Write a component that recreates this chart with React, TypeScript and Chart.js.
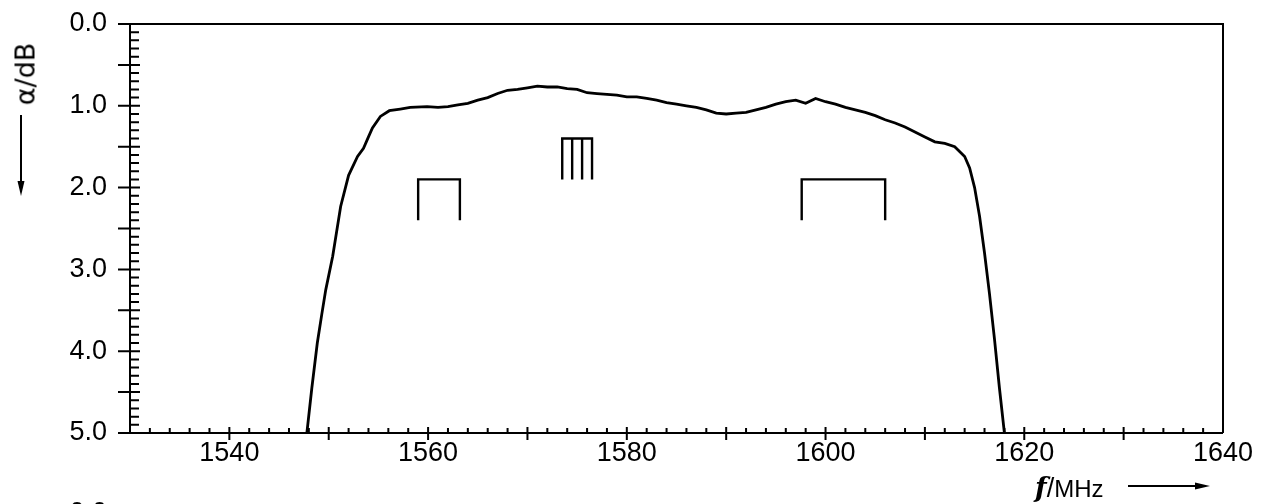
import React, { useEffect, useRef } from "react";
import { Chart, registerables } from "chart.js";

Chart.register(...registerables);

// Measured attenuation curve (frequency in MHz, attenuation in dB)
const freqMHz = [
  1547.8, 1548.3, 1548.85, 1549.3, 1549.7, 1550.4, 1551.2, 1552.0, 1552.9, 1553.5,
  1554.0, 1554.4, 1555.2, 1556.1, 1557.2, 1558.2, 1559.9, 1561, 1562, 1563,
  1564, 1565, 1566, 1567, 1568, 1569, 1570, 1571, 1572, 1573,
  1574, 1575, 1576, 1577, 1578, 1579, 1580, 1581, 1582, 1583,
  1584, 1585, 1586, 1587, 1588, 1589, 1590, 1591, 1592, 1593,
  1594, 1595, 1596, 1597, 1598, 1599, 1600, 1601, 1602, 1603,
  1604, 1605, 1606, 1607, 1608, 1609, 1610, 1611, 1612, 1613,
  1614, 1614.5, 1615, 1615.5, 1616, 1616.5, 1617, 1617.5, 1618,
];
const attenuationDb = [
  5.0, 4.45, 3.9, 3.55, 3.25, 2.84, 2.23, 1.85, 1.62, 1.52,
  1.38, 1.27, 1.13, 1.06, 1.04, 1.02, 1.01, 1.02, 1.01, 0.99,
  0.97, 0.93, 0.9, 0.85, 0.81, 0.8, 0.78, 0.76, 0.77, 0.77,
  0.79, 0.8, 0.84, 0.85, 0.86, 0.87, 0.89, 0.89, 0.91, 0.93,
  0.96, 0.98, 1.0, 1.02, 1.05, 1.09, 1.1, 1.09, 1.08, 1.05,
  1.02, 0.98, 0.95, 0.93, 0.97, 0.91, 0.95, 0.98, 1.02, 1.05,
  1.08, 1.12, 1.17, 1.21, 1.26, 1.32, 1.38, 1.44, 1.46, 1.5,
  1.62, 1.76, 2.0, 2.35, 2.8, 3.3, 3.85, 4.45, 5.0,
];

// Axis ranges and tick labels
const xMin = 1530;
const xMax = 1640;
const yMin = 0;
const yMax = 5;
const xTickValues = [1540, 1560, 1580, 1600, 1620, 1640];
const yTickValues = [0, 1, 2, 3, 4, 5];

// Band markers (edges in MHz) and their levels in dB
const bandB1 = [1559.0, 1563.2];
const bandL1 = [1573.5, 1574.5, 1575.5, 1576.5];
const bandG1 = [1597.6, 1606.0];
const bracketTop = 1.9;
const bracketBottom = 2.4;
const combTop = 1.4;
const combBottom = 1.9;

type Pt = { x: number; y: number | null };

function bracketPoints(edges: number[], top: number, bottom: number): Pt[] {
  const first = edges[0];
  const last = edges[edges.length - 1];
  const pts: Pt[] = [
    { x: first, y: bottom },
    { x: first, y: top },
    { x: last, y: top },
    { x: last, y: bottom },
  ];
  edges.slice(1, -1).forEach((e) => {
    pts.push({ x: e, y: null });
    pts.push({ x: e, y: top });
    pts.push({ x: e, y: bottom });
  });
  return pts;
}

const frameTicksPlugin = {
  id: "frameTicks",
  afterDatasetsDraw(chart: any) {
    const { ctx, scales } = chart;
    const x = scales.x;
    const y = scales.y;
    const yTop = y.getPixelForValue(yMin);
    const yBot = y.getPixelForValue(yMax);
    const xl = x.getPixelForValue(xMin);
    const xr = x.getPixelForValue(xMax);
    ctx.save();
    ctx.strokeStyle = "#000";
    ctx.lineWidth = 2;
    ctx.beginPath();
    // frame
    ctx.moveTo(xl - 12, yTop);
    ctx.lineTo(xr, yTop);
    ctx.lineTo(xr, yBot);
    ctx.moveTo(xl - 12, yBot);
    ctx.lineTo(xr, yBot);
    ctx.moveTo(xl, yTop);
    ctx.lineTo(xl, yBot);
    // y ticks every 0.1, major every 0.5
    for (let i = 1; i < 50; i++) {
      const p = y.getPixelForValue(i / 10);
      if (i % 5 === 0) {
        ctx.moveTo(xl - 12, p);
        ctx.lineTo(xl + 10, p);
      } else {
        ctx.moveTo(xl, p);
        ctx.lineTo(xl + 9, p);
      }
    }
    // x ticks every 2 MHz, major every 10 MHz
    for (let f = xMin + 2; f < xMax; f += 2) {
      const p = x.getPixelForValue(f);
      if (f % 10 === 0) {
        ctx.moveTo(p, yBot - 6);
        ctx.lineTo(p, yBot + 7);
      } else {
        ctx.moveTo(p, yBot - 5);
        ctx.lineTo(p, yBot);
      }
    }
    ctx.stroke();

    // axis arrows
    ctx.lineWidth = 2;
    ctx.beginPath();
    ctx.moveTo(21, 115);
    ctx.lineTo(21, 186);
    ctx.moveTo(1128, 486);
    ctx.lineTo(1198, 486);
    ctx.stroke();
    ctx.fillStyle = "#000";
    ctx.beginPath();
    ctx.moveTo(17.5, 181);
    ctx.lineTo(24.5, 181);
    ctx.lineTo(21, 196);
    ctx.closePath();
    ctx.fill();
    ctx.beginPath();
    ctx.moveTo(1195, 482.5);
    ctx.lineTo(1195, 489.5);
    ctx.lineTo(1210, 486);
    ctx.closePath();
    ctx.fill();
    ctx.restore();
  },
};

export default function App() {
  const canvasRef = useRef<HTMLCanvasElement | null>(null);

  useEffect(() => {
    if (!canvasRef.current) return;
    const curve = freqMHz.map((f, i) => ({ x: f, y: attenuationDb[i] }));
    const tickFont = { family: "'Liberation Sans', Arial, sans-serif", size: 27 };
    const lineDs = (data: Pt[], width: number) => ({
      data,
      showLine: true,
      borderColor: "#000",
      backgroundColor: "#000",
      borderWidth: width,
      pointRadius: 0,
      pointHoverRadius: 0,
      tension: 0,
      spanGaps: false,
      fill: false,
    });
    const chart = new Chart(canvasRef.current, {
      type: "scatter",
      data: {
        datasets: [
          lineDs(curve, 2.8),
          lineDs(bracketPoints(bandB1, bracketTop, bracketBottom), 2.4),
          lineDs(bracketPoints(bandL1, combTop, combBottom), 2.4),
          lineDs(bracketPoints(bandG1, bracketTop, bracketBottom), 2.4),
        ] as any,
      },
      options: {
        animation: false,
        responsive: false,
        events: [],
        layout: { padding: { top: 24, right: 43, bottom: 0, left: 0 } },
        plugins: {
          legend: { display: false },
          tooltip: { enabled: false },
          title: { display: false },
        },
        scales: {
          x: {
            type: "linear",
            min: xMin,
            max: xMax,
            grid: { display: false, drawTicks: false },
            border: { display: false },
            afterBuildTicks: (s: any) => {
              s.ticks = xTickValues.map((v) => ({ value: v }));
            },
            afterFit: (s: any) => {
              s.height = 71;
              s.paddingLeft = 0;
              s.paddingRight = 0;
            },
            ticks: {
              autoSkip: false,
              maxRotation: 0,
              padding: 4,
              color: "#000",
              font: tickFont,
              callback: (v: any) => String(v),
            },
          },
          y: {
            type: "linear",
            min: yMin,
            max: yMax,
            reverse: true,
            grid: { display: false, drawTicks: false },
            border: { display: false },
            afterBuildTicks: (s: any) => {
              s.ticks = yTickValues.map((v) => ({ value: v }));
            },
            afterFit: (s: any) => {
              s.width = 130;
              s.paddingTop = 0;
              s.paddingBottom = 0;
            },
            ticks: {
              autoSkip: false,
              padding: 23,
              color: "#000",
              font: tickFont,
              callback: (v: any) => Number(v).toFixed(1),
            },
          },
        },
      },
      plugins: [frameTicksPlugin],
    });
    return () => chart.destroy();
  }, []);

  return (
    <div
      style={{
        position: "absolute",
        left: 0,
        top: 0,
        width: 1266,
        height: 504,
        overflow: "hidden",
        background: "#fff",
      }}
    >
      <canvas ref={canvasRef} width={1266} height={504} style={{ width: 1266, height: 504, display: "block" }} />
      <div
        style={{
          position: "absolute",
          left: 25,
          top: 74,
          transform: "translate(-50%, -50%) rotate(-90deg)",
          fontFamily: "'DejaVu Sans', sans-serif",
          fontSize: 27,
          lineHeight: 1,
          whiteSpace: "nowrap",
          color: "#000",
        }}
      >
        α/dB
      </div>
      <div
        style={{
          position: "absolute",
          left: 1035,
          top: 474,
          fontFamily: "'Liberation Sans', Arial, sans-serif",
          fontSize: 24,
          lineHeight: 1,
          whiteSpace: "nowrap",
          color: "#000",
        }}
      >
        <span style={{ fontFamily: "'DejaVu Serif', serif", fontStyle: "italic", fontWeight: "bold", fontSize: 27 }}>f</span>
        <span style={{ fontSize: 27 }}>/</span>MHz
      </div>
      <div
        style={{
          position: "absolute",
          right: 1266 - 107,
          top: 497,
          fontFamily: "'Liberation Sans', Arial, sans-serif",
          fontSize: 27,
          lineHeight: 1.15,
          whiteSpace: "nowrap",
          color: "#000",
        }}
      >
        0.0
      </div>
    </div>
  );
}
